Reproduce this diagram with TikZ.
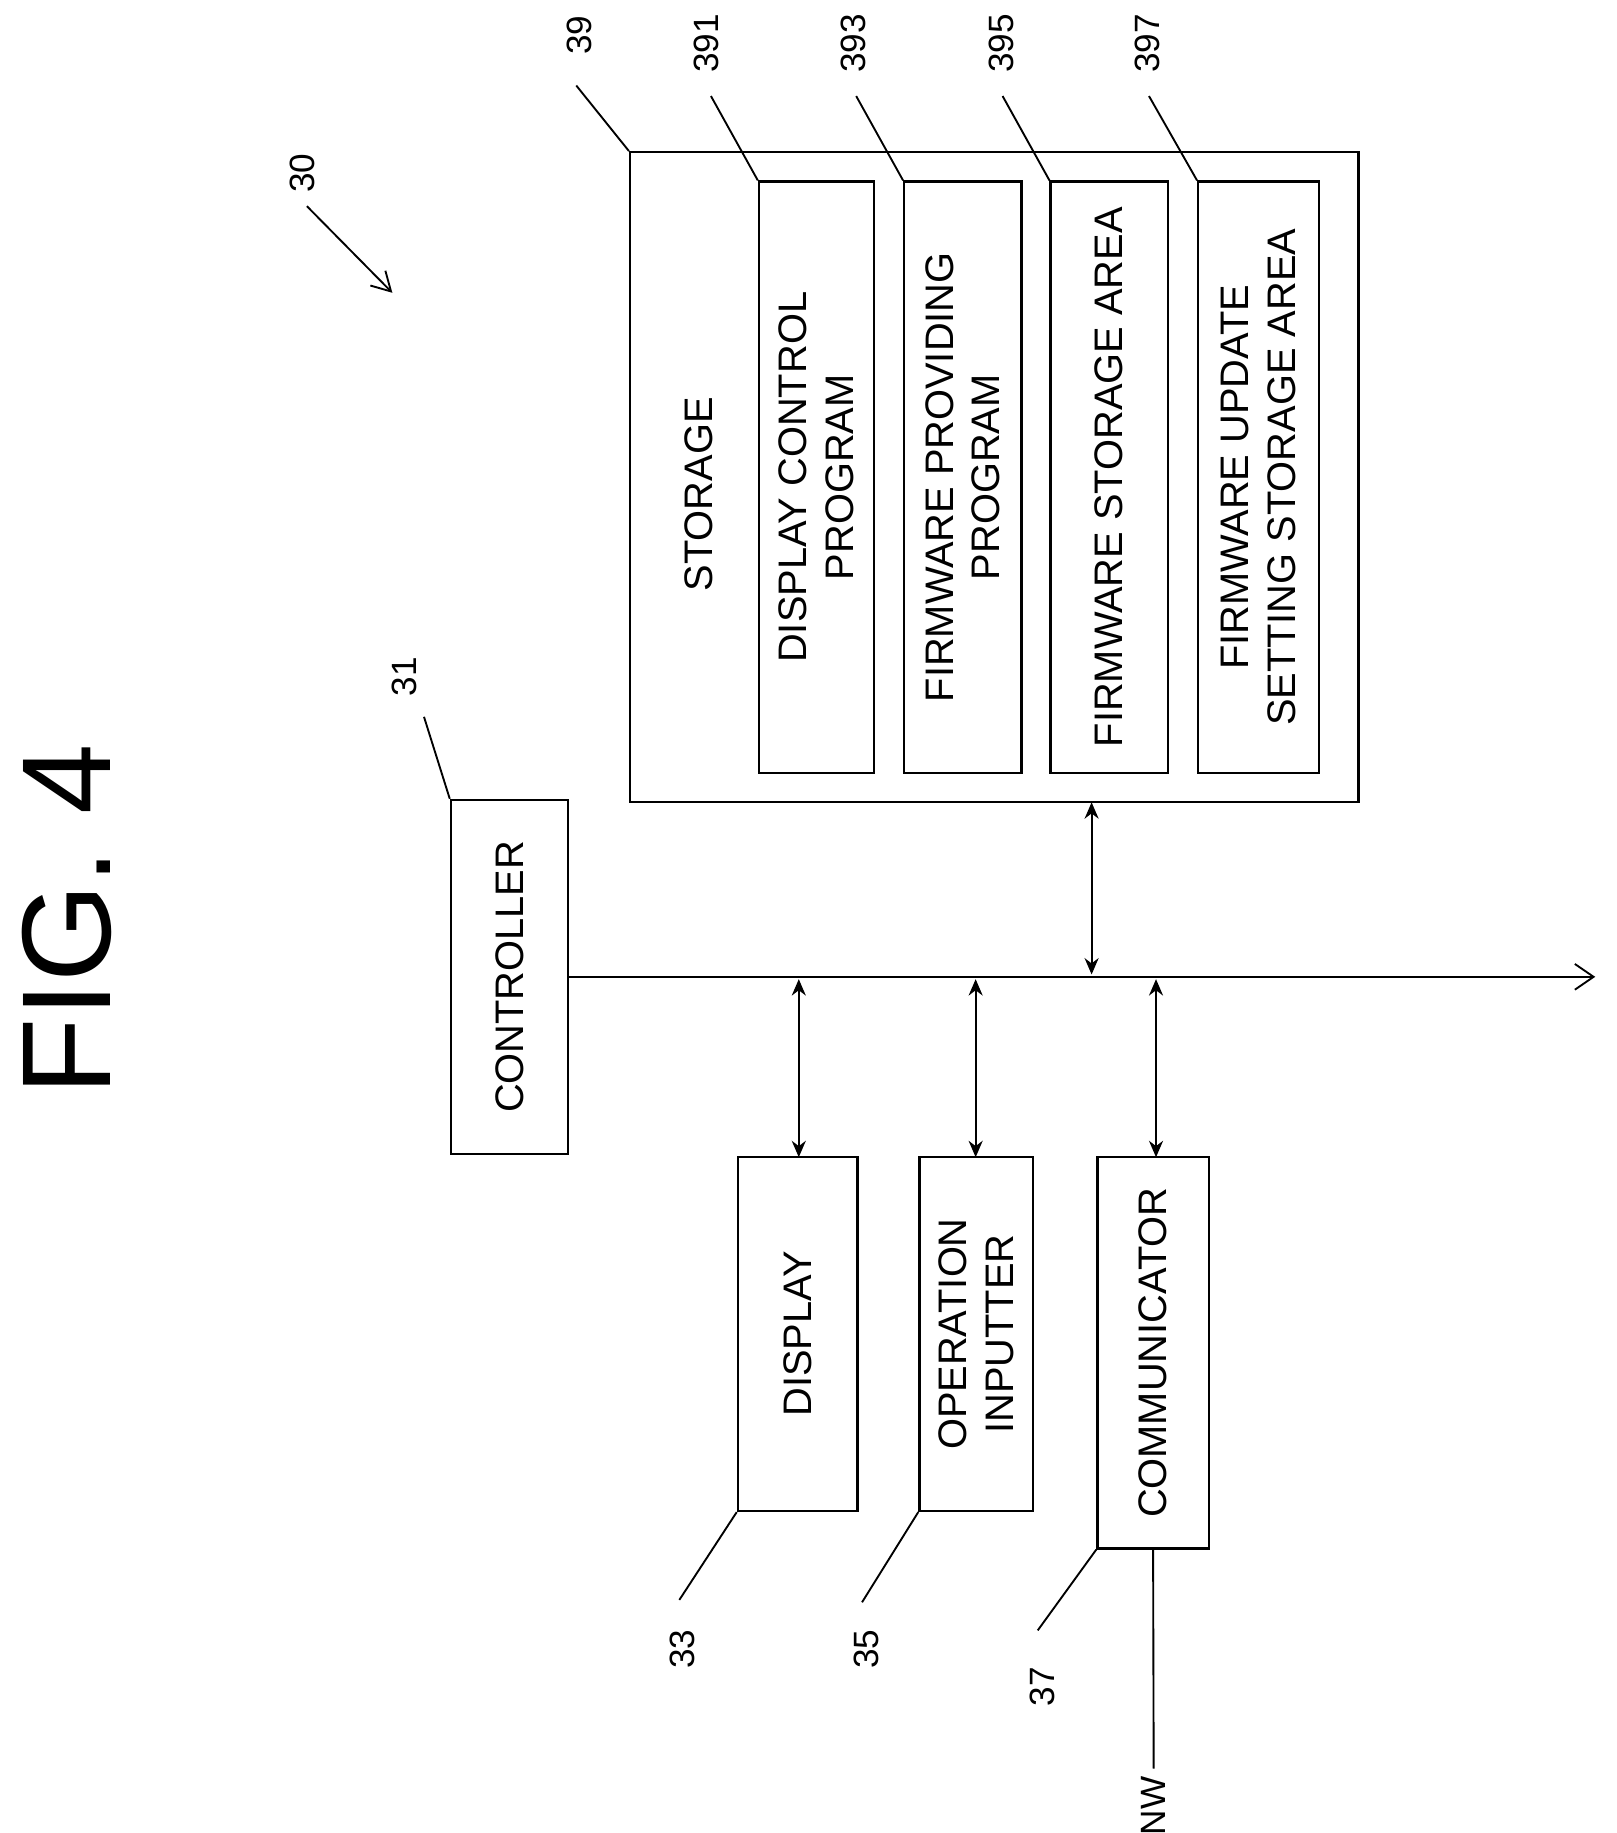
\documentclass[tikz,border=0pt]{standalone}
\usepackage{fontspec}
\setmainfont{Liberation Sans}
\usetikzlibrary{arrows.meta,positioning}
\tikzset{
    blk/.style={draw, line width=1pt, inner sep=0pt},
    txt/.style={rotate=90, font=\fontsize{17}{20}\selectfont, align=center},
    ref/.style={rotate=90, font=\fontsize{15}{18}\selectfont},
    lead/.style={line width=0.8pt},
    link/.style={line width=0.8pt, {Stealth[length=7pt,width=6pt]}-{Stealth[length=7pt,width=6pt]}}
}
\begin{document}
\begin{tikzpicture}[x=0.5pt,y=-0.5pt]
\useasboundingbox (0,0) rectangle (1380,1565);
\node[rotate=90, font=\fontsize{54}{60}\selectfont] (fig) at (57,785) {FIG. 4};
% device
\node[ref] (n30) at (258,148) {30};
\coordinate (a30) at (335,250);
\draw[lead,-{Straight Barb[length=8pt,width=9pt]}] (262,176) -- (a30);
% controller and bus
\node[blk, minimum width=50pt, minimum height=151pt] (ctrl) at (435,834) {};
\node[txt] at (ctrl) {CONTROLLER};
\coordinate (busend) at (1362,834);
\draw[lead,-{Straight Barb[length=8pt,width=11pt]}] (ctrl.east) -- (busend);
% peripherals
\node[blk, minimum width=51pt, minimum height=151pt] (disp) at (681,1139) {};
\node[txt] at (disp) {DISPLAY};
\node[blk, minimum width=48.5pt, minimum height=151pt] (oper) at (833.5,1139) {};
\node[txt] at (oper) {OPERATION\\INPUTTER};
\node[blk, minimum width=47.5pt, minimum height=167pt] (comm) at (984.5,1155) {};
\node[txt] at (comm) {COMMUNICATOR};
\draw[link] (682,988) -- (682,836);
\draw[link] (833,988) -- (833,836);
\draw[link] (987,988) -- (987,836);
\node[rotate=90, font=\fontsize{15}{18}\selectfont] (nw) at (985,1542) {NW};
\draw[lead] (comm.south) -- (nw.east);
% storage
\node[blk, minimum width=311pt, minimum height=277.5pt] (stor) at (849,407.5) {};
\node[txt] at (597,422) {STORAGE};
\draw[link] (932,685) -- (932,832);
\node[blk, minimum width=49pt, minimum height=252.5pt] (dcp) at (697,407.5) {};
\node[txt] at (dcp) {DISPLAY CONTROL\\PROGRAM};
\node[blk, minimum width=50pt, minimum height=252.5pt] (fpp) at (822,407.5) {};
\node[txt] at (fpp) {FIRMWARE PROVIDING\\PROGRAM};
\node[blk, minimum width=50pt, minimum height=252.5pt] (fsa) at (947,407.5) {};
\node[txt] at (fsa) {FIRMWARE STORAGE AREA};
\node[blk, minimum width=51.5pt, minimum height=252.5pt] (fus) at (1074.5,407.5) {};
\node[txt] at (fus) {FIRMWARE UPDATE\\SETTING STORAGE AREA};
% reference numerals
\node[ref] (n31) at (345,578) {31};
\draw[lead] (ctrl.north west) -- (362,612);
\node[ref] (n33) at (583,1408) {33};
\draw[lead] (disp.south west) -- (580,1366);
\node[ref] (n35) at (740,1408) {35};
\draw[lead] (oper.south west) -- (736,1368);
\node[ref] (n37) at (890,1440) {37};
\draw[lead] (comm.south west) -- (886,1392);
\node[ref] (n39) at (495,30) {39};
\draw[lead] (stor.north west) -- (492,73);
\node[ref] (n391) at (603,37) {391};
\draw[lead] (dcp.north west) -- (607,82);
\node[ref] (n393) at (729,37) {393};
\draw[lead] (fpp.north west) -- (731,82);
\node[ref] (n395) at (855,37) {395};
\draw[lead] (fsa.north west) -- (856,82);
\node[ref] (n397) at (980,37) {397};
\draw[lead] (fus.north west) -- (981,82);
\end{tikzpicture}
\end{document}
